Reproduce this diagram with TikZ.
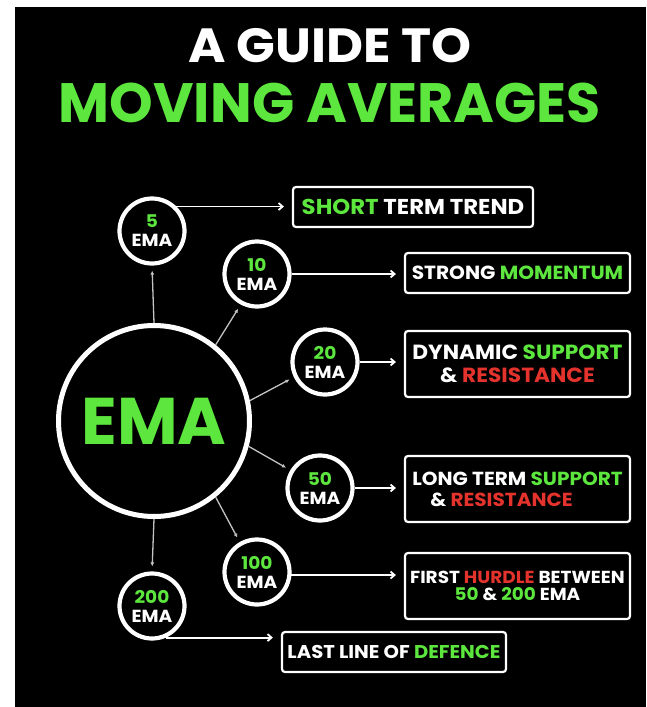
\documentclass[tikz,border=0pt]{standalone}
\usepackage{fontspec}
\setmainfont{Poppins}[FakeStretch=1.06]
\newfontfamily\plainface{Poppins}
\usetikzlibrary{arrows.meta,calc}
\definecolor{emagreen}{RGB}{92,230,62}
\definecolor{emared}{RGB}{228,50,44}
\definecolor{linkgray}{RGB}{195,195,195}

\begin{document}
\begin{tikzpicture}[x=1pt,y=-1pt,
  every node/.style={font=\bfseries,text=white},
  ring/.style={circle,draw=white,line width=4.2pt,minimum size=65pt,inner sep=0pt,
    align=center,font=\fontsize{17.5}{19}\selectfont\bfseries},
  hub/.style={circle,draw=white,line width=5pt,minimum size=191pt,inner sep=0pt,
    text=emagreen,font=\plainface\fontsize{66}{66}\selectfont\bfseries},
  infobox/.style={draw=white,line width=2.2pt,rounded corners=3pt,inner sep=0pt,align=center},
  pointer/.style={white,line width=1.8pt,-{Straight Barb[length=4pt,width=7pt]},shorten >=8pt},
  spoke/.style={linkgray,line width=1.3pt,-{Latex[length=4pt,width=4pt]},shorten >=5pt},
  ]
\useasboundingbox (0,0) rectangle (646,707);
\fill[black] (15,7) rectangle (646,707);

% heading
\node[anchor=base,font=\fontsize{48}{48}\selectfont\bfseries] (title) at (330,62) {A GUIDE TO};
\node[anchor=base,text=emagreen,font=\plainface\fontsize{55.5}{57}\selectfont\bfseries] (subtitle) at (330,122) {MOVING AVERAGES};

% central hub
\node[hub] (hub) at (154,421) {EMA};

% moving-average rings
\node[ring] (c5)   at (152,231) {\textcolor{emagreen}{5}\\EMA};
\node[ring] (c10)  at (257,274) {\textcolor{emagreen}{10}\\EMA};
\node[ring] (c20)  at (325,362) {\textcolor{emagreen}{20}\\EMA};
\node[ring] (c50)  at (320,488) {\textcolor{emagreen}{50}\\EMA};
\node[ring] (c100) at (257,572) {\textcolor{emagreen}{100}\\EMA};
\node[ring] (c200) at (152,606) {\textcolor{emagreen}{200}\\EMA};

% descriptions
\node[infobox,minimum width=240pt,minimum height=40pt,font=\fontsize{21.5}{22}\selectfont\bfseries]
  (b5) at (413,207) {\textcolor{emagreen}{SHORT} TERM TREND};
\node[infobox,minimum width=225pt,minimum height=40pt,font=\fontsize{19}{22}\selectfont\bfseries]
  (b10) at (517.5,273) {STRONG \textcolor{emagreen}{MOMENTUM}};
\node[infobox,minimum width=225pt,minimum height=66pt,font=\fontsize{20.5}{22.5}\selectfont\bfseries]
  (b20) at (517.5,364) {DYNAMIC \textcolor{emagreen}{SUPPORT}\\\& \textcolor{emared}{RESISTANCE}};
\node[infobox,minimum width=225pt,minimum height=66pt,font=\fontsize{18.9}{21}\selectfont\bfseries]
  (b50) at (517.5,489) {LONG TERM \textcolor{emagreen}{SUPPORT}\\\& \textcolor{emared}{RESISTANCE}\rule{32pt}{0pt}};
\node[infobox,minimum width=225pt,minimum height=66pt,font=\fontsize{17.4}{17.5}\selectfont\bfseries]
  (b100) at (517.5,586) {FIRST \textcolor{emared}{HURDLE} BETWEEN\\\textcolor{emagreen}{50} \& \textcolor{emagreen}{200} EMA};
\node[infobox,minimum width=224pt,minimum height=40pt,font=\fontsize{18.5}{22}\selectfont\bfseries]
  (b200) at (394,652) {LAST LINE OF \textcolor{emagreen}{DEFENCE}};

% hub to rings
\draw[spoke] (hub.90)  -- (c5.-90);
\draw[spoke] (hub.51)  -- (c10.242);
\draw[spoke] (hub.12)  -- (c20.206);
\draw[spoke] (hub.-15) -- (c50.149);
\draw[spoke] (hub.-51) -- (c100.120);
\draw[spoke] (hub.-90) -- (c200.90);

% rings to descriptions
\draw[pointer] (c5.45)    -- (c5.45 -| b5.west);
\draw[pointer] (c10.east) -- (c10.east -| b10.west);
\draw[pointer] (c20.east) -- (c20.east -| b20.west);
\draw[pointer] (c50.east) -- (c50.east -| b50.west);
\draw[pointer] (c100.-5)  -- (c100.-5 -| b100.west);
\draw[pointer] (c200.-66) -- (c200.-66 -| b200.west);
\end{tikzpicture}
\end{document}
